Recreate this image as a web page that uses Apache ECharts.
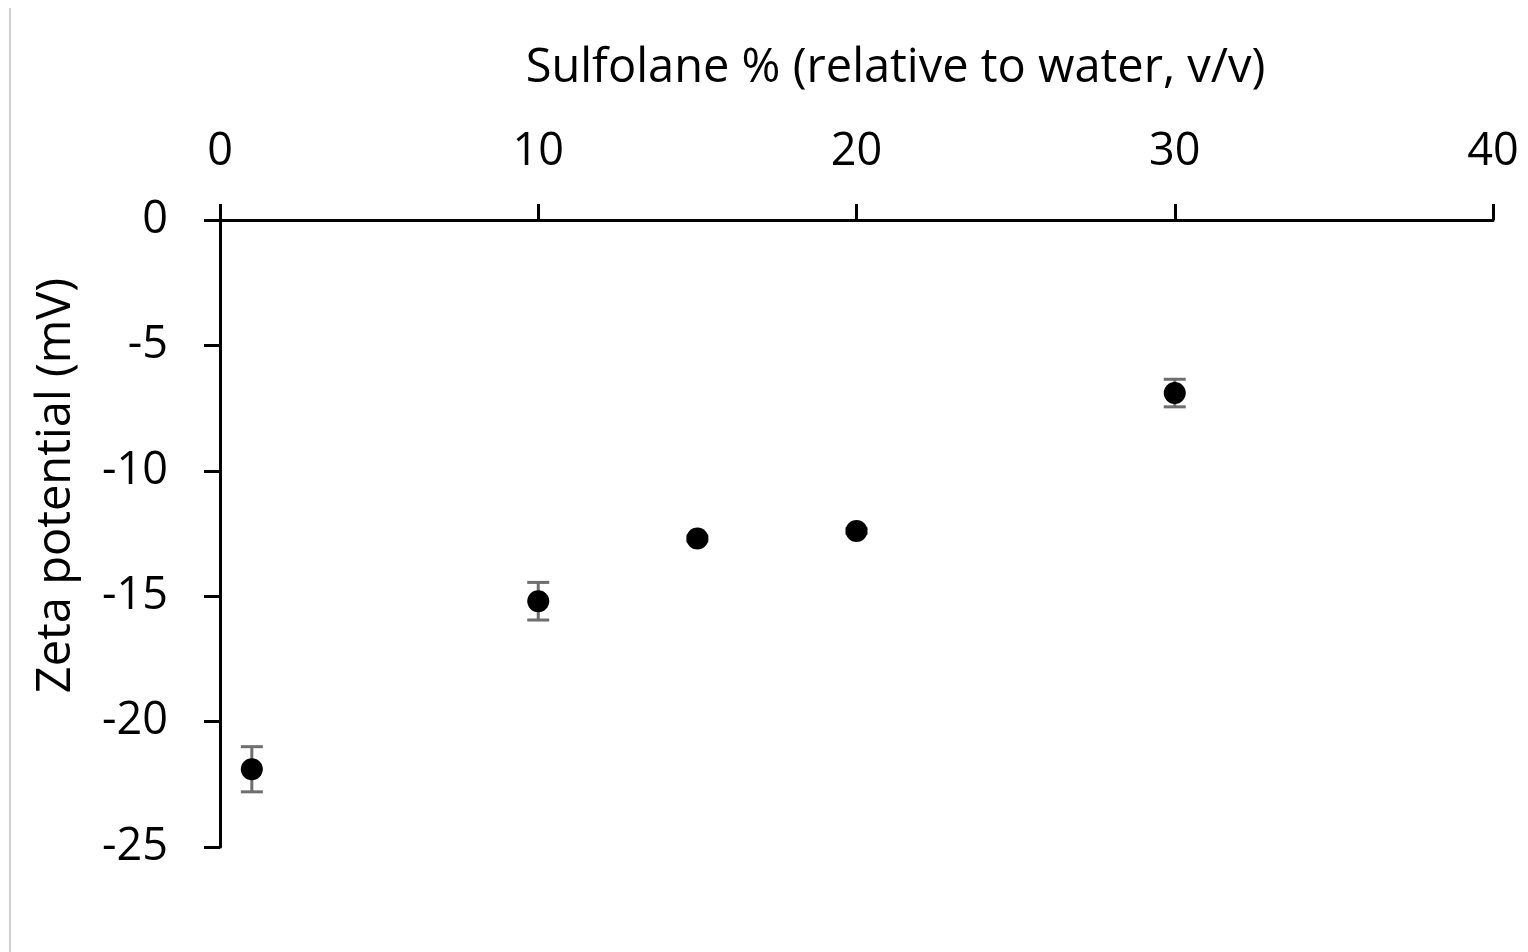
<!DOCTYPE html>
<html>
<head>
<meta charset="utf-8">
<script src="https://cdn.jsdelivr.net/npm/echarts@6/dist/echarts.min.js"></script>
<style>html,body{margin:0;padding:0;background:#fff}#chart{width:1528px;height:952px}</style>
</head>
<body>
<div id="chart"></div>
<script>
// Data
var sulfolanePct = [1, 10, 15, 20, 30];
var zetaMean = [-21.9, -15.2, -12.7, -12.4, -6.9];
var zetaErr = [0.9, 0.75, 0.1, 0.1, 0.55];
var xTicks = [0, 10, 20, 30, 40];
var yTicks = [0, -5, -10, -15, -20, -25];
var xAxisTitle = 'Sulfolane % (relative to water, v/v)';
var yAxisTitle = 'Zeta potential (mV)';

var FONT = 'Open Sans';
var points = sulfolanePct.map(function (x, i) { return [x, zetaMean[i]]; });
var errData = sulfolanePct.map(function (x, i) { return [x, zetaMean[i] - zetaErr[i], zetaMean[i] + zetaErr[i]]; });

var chart = echarts.init(document.getElementById('chart'));
chart.setOption({
  backgroundColor: '#fff',
  animation: false,
  grid: { left: 220, right: 35, top: 220, bottom: 105, containLabel: false },
  xAxis: {
    type: 'value', position: 'top', min: xTicks[0], max: xTicks[xTicks.length - 1], interval: 10,
    name: xAxisTitle, nameLocation: 'middle', nameGap: 128,
    nameTextStyle: { fontFamily: FONT, fontSize: 47, color: '#000', padding: [0, 0, 0, 78] },
    axisLine: { onZero: false, lineStyle: { color: '#000', width: 3 } },
    axisTick: { show: true, length: 16, lineStyle: { color: '#000', width: 3 } },
    axisLabel: { fontFamily: FONT, fontSize: 45, color: '#000', margin: 45 },
    splitLine: { show: false }
  },
  yAxis: {
    type: 'value', min: yTicks[yTicks.length - 1], max: yTicks[0], interval: 5,
    name: yAxisTitle, nameLocation: 'middle', nameGap: 140,
    nameTextStyle: { fontFamily: FONT, fontSize: 47, color: '#000', padding: [0, 0, 0, 96] },
    axisLine: { onZero: false, lineStyle: { color: '#000', width: 3 } },
    axisTick: { show: true, length: 16, lineStyle: { color: '#000', width: 3 } },
    axisLabel: { fontFamily: FONT, fontSize: 45, color: '#000', margin: 52 },
    splitLine: { show: false }
  },
  graphic: [{
    type: 'line', shape: { x1: 10, y1: 8, x2: 10, y2: 952 },
    style: { stroke: '#d0d0d0', lineWidth: 2 }, silent: true
  }],
  series: [{
    type: 'custom',
    data: errData,
    z: 2,
    renderItem: function (params, api) {
      var x = api.value(0);
      var lo = api.coord([x, api.value(1)]);
      var hi = api.coord([x, api.value(2)]);
      var cw = 11;
      var st = { stroke: '#6e6e6e', lineWidth: 3 };
      return {
        type: 'group',
        children: [
          { type: 'line', shape: { x1: lo[0], y1: lo[1], x2: hi[0], y2: hi[1] }, style: st },
          { type: 'line', shape: { x1: lo[0] - cw, y1: lo[1], x2: lo[0] + cw, y2: lo[1] }, style: st },
          { type: 'line', shape: { x1: hi[0] - cw, y1: hi[1], x2: hi[0] + cw, y2: hi[1] }, style: st }
        ]
      };
    }
  }, {
    type: 'scatter',
    data: points,
    z: 3,
    symbol: 'circle',
    symbolSize: 22,
    itemStyle: { color: '#000', opacity: 1 }
  }]
});
</script>
</body>
</html>
